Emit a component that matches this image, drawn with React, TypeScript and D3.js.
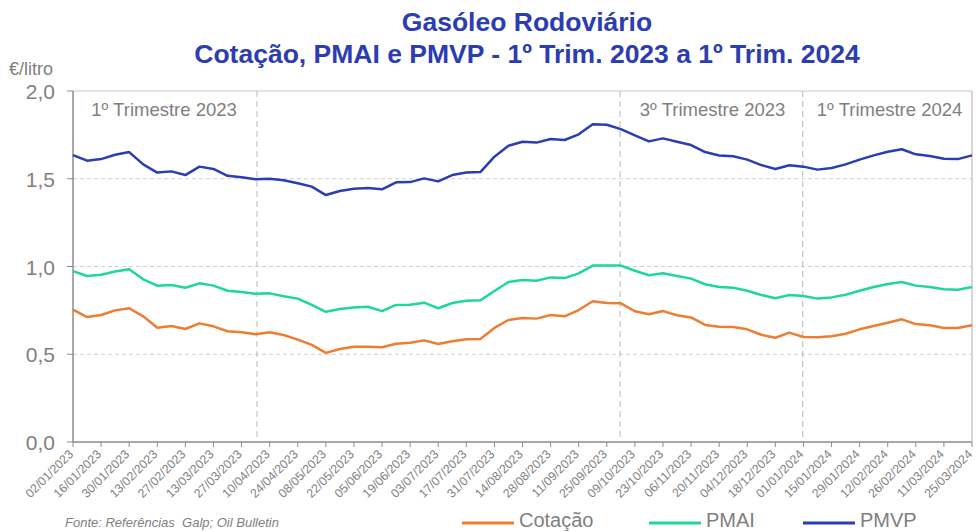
import React from 'react';
import { scaleLinear, line } from 'd3';

// weekly values, 02/01/2023 .. 25/03/2024 (65 weeks)
const cotacao = [
  0.754, 0.712, 0.724, 0.750, 0.762, 0.716, 0.651, 0.661, 0.644, 0.676, 0.659, 0.631, 0.625,
  0.614, 0.625, 0.610, 0.583, 0.553, 0.508, 0.530, 0.543, 0.543, 0.540, 0.560, 0.566, 0.579,
  0.558, 0.574, 0.585, 0.587, 0.650, 0.695, 0.707, 0.703, 0.724, 0.716, 0.752, 0.802, 0.792,
  0.790, 0.745, 0.728, 0.746, 0.722, 0.710, 0.667, 0.657, 0.655, 0.642, 0.611, 0.594, 0.623,
  0.598, 0.597, 0.602, 0.617, 0.642, 0.661, 0.680, 0.699, 0.672, 0.665, 0.650, 0.650, 0.665,
];
const pmai = [
  0.974, 0.946, 0.953, 0.971, 0.984, 0.927, 0.891, 0.895, 0.879, 0.904, 0.891, 0.862, 0.855,
  0.845, 0.847, 0.830, 0.817, 0.781, 0.742, 0.758, 0.767, 0.771, 0.746, 0.781, 0.782, 0.794,
  0.762, 0.792, 0.805, 0.807, 0.860, 0.912, 0.923, 0.919, 0.938, 0.934, 0.961, 1.005, 1.005,
  1.005, 0.976, 0.950, 0.961, 0.946, 0.931, 0.899, 0.883, 0.879, 0.862, 0.838, 0.819, 0.838,
  0.832, 0.817, 0.824, 0.839, 0.862, 0.883, 0.900, 0.912, 0.891, 0.883, 0.870, 0.868, 0.883,
];
const pmvp = [
  1.635, 1.603, 1.612, 1.637, 1.652, 1.582, 1.535, 1.542, 1.521, 1.569, 1.556, 1.517, 1.508,
  1.497, 1.500, 1.491, 1.474, 1.455, 1.407, 1.430, 1.443, 1.447, 1.440, 1.480, 1.481, 1.502,
  1.485, 1.521, 1.536, 1.538, 1.626, 1.688, 1.711, 1.706, 1.726, 1.721, 1.753, 1.810, 1.808,
  1.783, 1.747, 1.713, 1.730, 1.711, 1.692, 1.652, 1.633, 1.628, 1.609, 1.578, 1.556, 1.577,
  1.569, 1.552, 1.561, 1.582, 1.609, 1.633, 1.654, 1.668, 1.639, 1.630, 1.614, 1.612, 1.633,
];

// tick labels, every second week
const tickLabels = [
  '02/01/2023', '16/01/2023', '30/01/2023', '13/02/2023', '27/02/2023', '13/03/2023',
  '27/03/2023', '10/04/2023', '24/04/2023', '08/05/2023', '22/05/2023', '05/06/2023',
  '19/06/2023', '03/07/2023', '17/07/2023', '31/07/2023', '14/08/2023', '28/08/2023',
  '11/09/2023', '25/09/2023', '09/10/2023', '23/10/2023', '06/11/2023', '20/11/2023',
  '04/12/2023', '18/12/2023', '01/01/2024', '15/01/2024', '29/01/2024', '12/02/2024',
  '26/02/2024', '11/03/2024', '25/03/2024',
];
const yTicks = [0, 0.5, 1.0, 1.5, 2.0];

// quarter separators (week index) and their labels
const dividers = [13.1, 38.95, 51.95];
const periodLabels = [
  { label: '1º Trimestre 2023', at: 1.3 },
  { label: '3º Trimestre 2023', at: 40.35 },
  { label: '1º Trimestre 2024', at: 52.95 },
];

const series = [
  { name: 'Cotação', values: cotacao, color: '#ED7D31', legendX: 462 },
  { name: 'PMAI', values: pmai, color: '#1DD6A0', legendX: 649 },
  { name: 'PMVP', values: pmvp, color: '#2B3DB3', legendX: 803 },
];

const W = 976;
const H = 532;
const margin = { top: 91, right: 4, bottom: 90, left: 73 };
const FONT = 'Liberation Sans, Arial, sans-serif';
const GREY = '#808080';
const TITLE = '#2B3DB0';

const App = () => {
  const x = scaleLinear().domain([0, cotacao.length - 1]).range([margin.left, W - margin.right]);
  const y = scaleLinear().domain([0, 2]).range([H - margin.bottom, margin.top]);
  const path = line<number>().x((_, i) => x(i)).y((d) => y(d));
  const bottom = y(0);
  const top = y(2);
  const right = x(cotacao.length - 1);

  return (
    <svg width={W} height={H} style={{ position: 'absolute', left: 0, top: 0 }} fontFamily={FONT}>
      <rect width={W} height={H} fill="#fff" />

      <text x={527} y={31} textAnchor="middle" fontSize={26.5} fontWeight="bold" fill={TITLE}>
        Gasóleo Rodoviário
      </text>
      <text x={527} y={63} textAnchor="middle" fontSize={26.5} fontWeight="bold" fill={TITLE}>
        Cotação, PMAI e PMVP - 1º Trim. 2023 a 1º Trim. 2024
      </text>

      {/* grid */}
      {yTicks.filter((t) => t > 0 && t < 2).map((t) => (
        <line key={t} x1={margin.left} x2={right} y1={y(t)} y2={y(t)} stroke="#d0d0d0" strokeDasharray="4,3" />
      ))}
      <line x1={margin.left} x2={right} y1={top} y2={top} stroke="#c8c8c8" />
      <line x1={right} x2={right} y1={top} y2={bottom} stroke="#c8c8c8" strokeWidth={1.5} />

      {dividers.map((d) => (
        <line key={d} x1={x(d)} x2={x(d)} y1={top} y2={bottom} stroke="#b8b8b8" strokeDasharray="6,4" />
      ))}
      {periodLabels.map((p) => (
        <text key={p.label} x={x(p.at)} y={116} fontSize={18.5} fill={GREY}>{p.label}</text>
      ))}

      {/* y axis */}
      <line x1={margin.left} x2={margin.left} y1={top} y2={bottom} stroke="#8c8c8c" strokeWidth={1.5} />
      {yTicks.map((t) => (
        <g key={t}>
          <line x1={margin.left - 6} x2={margin.left} y1={y(t)} y2={y(t)} stroke="#8c8c8c" />
          <text x={55} y={y(t) + 8} textAnchor="end" fontSize={21} fill={GREY}>
            {t.toFixed(1).replace('.', ',')}
          </text>
        </g>
      ))}
      <text x={9} y={75} fontSize={18} fill={GREY}>€/litro</text>

      {/* x axis */}
      <line x1={margin.left} x2={right} y1={bottom} y2={bottom} stroke="#8c8c8c" strokeWidth={1.5} />
      {tickLabels.map((lbl, k) => {
        const tx = x(k * 2);
        return (
          <g key={lbl}>
            <line x1={tx} x2={tx} y1={bottom} y2={bottom + 5} stroke="#8c8c8c" />
            <text
              transform={`translate(${tx + 1},${bottom + 13}) rotate(-45)`}
              textAnchor="end"
              fontSize={12.3}
              fill={GREY}
            >
              {lbl}
            </text>
          </g>
        );
      })}

      {series.map((s) => (
        <path key={s.name} d={path(s.values) ?? ''} fill="none" stroke={s.color} strokeWidth={2.5} strokeLinejoin="round" />
      ))}

      <text x={65} y={527} fontSize={13} fontStyle="italic" fill={GREY} style={{ whiteSpace: 'pre' }}>
        {'Fonte: Referências  Galp; Oil Bulletin'}
      </text>

      {series.map((s) => (
        <g key={s.name}>
          <line x1={s.legendX} x2={s.legendX + 52} y1={523} y2={523} stroke={s.color} strokeWidth={3} />
          <text x={s.legendX + 57} y={527} fontSize={20} fill={GREY}>{s.name}</text>
        </g>
      ))}
    </svg>
  );
};

export default App;
